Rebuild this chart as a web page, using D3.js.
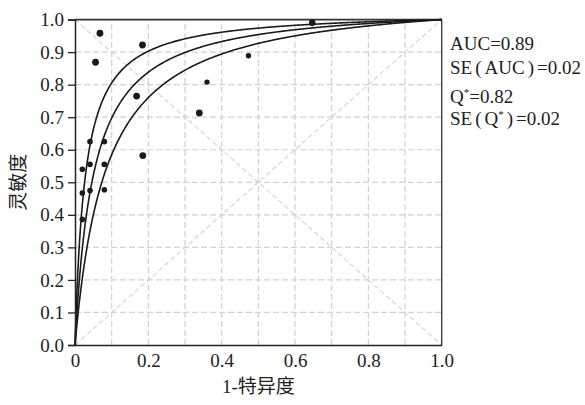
<!DOCTYPE html>
<html>
<head>
<meta charset="utf-8">
<script src="https://cdn.jsdelivr.net/npm/d3@7"></script>
<style>
  html, body { margin: 0; padding: 0; background: #fff; }
  svg { display: block; }
</style>
</head>
<body>
<svg id="chart" width="585" height="405"></svg>
<script>
// Study points: 1 - specificity, sensitivity, and marker radius
const studyFpr  = [0.068, 0.056, 0.184, 0.647, 0.473, 0.360, 0.168, 0.339, 0.185,
                   0.041, 0.080, 0.041, 0.080, 0.020, 0.020, 0.041, 0.080, 0.020];
const studySens = [0.958, 0.869, 0.922, 0.990, 0.889, 0.808, 0.765, 0.713, 0.582,
                   0.625, 0.625, 0.555, 0.555, 0.540, 0.467, 0.475, 0.477, 0.386];
const studySize = [3.4, 3.4, 3.4, 3.3, 2.7, 2.7, 3.4, 3.4, 3.4,
                   2.8, 2.8, 2.8, 2.8, 2.8, 2.8, 2.8, 2.8, 2.8];

// Summary statistics of the symmetric SROC curve
const statLabels = [["AUC", ""], ["SE(AUC)", ""], ["Q", "*"], ["SE(Q", "*", ")"]];
const statValues = [0.89, 0.02, 0.82, 0.02];
// Curves: SROC at Q*, and Q* -/+ 1.96 SE
const curveZ = [-1.96, 0, 1.96];

const xTicks = [0, 0.2, 0.4, 0.6, 0.8, 1.0];
const yTicks = [0, 0.1, 0.2, 0.3, 0.4, 0.5, 0.6, 0.7, 0.8, 0.9, 1.0];
const gridTicks = d3.range(1, 10).map(i => i / 10);

const serif = "'Liberation Serif', 'Times New Roman', serif";
const cjk = "'Liberation Serif', 'Noto Sans CJK SC', serif";

const svg = d3.select("#chart");
const m = { left: 75, top: 19.6, width: 366.7, height: 325.4 };

const x = d3.scaleLinear().domain([0, 1]).range([m.left, m.left + m.width]);
const y = d3.scaleLinear().domain([0, 1]).range([m.top + m.height, m.top]);

// Dashed grid
const grid = svg.append("g").attr("stroke", "#d2d2d2").attr("stroke-width", 1.2)
  .attr("stroke-dasharray", "6,3");
grid.selectAll("line.gx").data(gridTicks).join("line")
  .attr("x1", d => x(d)).attr("x2", d => x(d))
  .attr("y1", y(0)).attr("y2", y(1));
grid.selectAll("line.gy").data(gridTicks).join("line")
  .attr("y1", d => y(d)).attr("y2", d => y(d))
  .attr("x1", x(0)).attr("x2", x(1));

// Reference diagonals
const diag = svg.append("g").attr("stroke", "#d6d6d6").attr("stroke-width", 1.2)
  .attr("stroke-dasharray", "5,3");
diag.append("line").attr("x1", x(0)).attr("y1", y(0)).attr("x2", x(1)).attr("y2", y(1));
diag.append("line").attr("x1", x(0)).attr("y1", y(1)).attr("x2", x(1)).attr("y2", y(0));

// Frame (top / right)
svg.append("line").attr("x1", x(0)).attr("x2", x(1)).attr("y1", y(1)).attr("y2", y(1))
  .attr("stroke", "#333").attr("stroke-width", 1.6);
svg.append("line").attr("x1", x(1)).attr("x2", x(1)).attr("y1", y(1)).attr("y2", y(0))
  .attr("stroke", "#333").attr("stroke-width", 1.3);

// SROC curves
const q = statValues[2], seQ = statValues[3];
const fprGrid = d3.range(0, 1.0001, 0.0025);
const line = d3.line().x(d => x(d[0])).y(d => y(d[1]));
curveZ.forEach(z => {
  const qq = q + z * seQ;
  const dor = Math.pow(qq / (1 - qq), 2);
  const pts = fprGrid.map(f => [f, f * dor / (1 - f + f * dor)]);
  svg.append("path").attr("d", line(pts))
    .attr("fill", "none").attr("stroke", "#1a1a1a").attr("stroke-width", 1.6);
});

// Axes
const yAxis = d3.axisLeft(y).tickValues(yTicks).tickFormat(d3.format(".1f")).tickSize(7).tickPadding(4);
const gy = svg.append("g").attr("transform", `translate(${x(0)},0)`).call(yAxis);
gy.select(".domain").attr("stroke", "#222").attr("stroke-width", 1.5);
gy.selectAll(".tick line").attr("stroke", "#222").attr("stroke-width", 1.3);
gy.selectAll(".tick text").attr("font-family", serif).attr("font-size", 19).attr("fill", "#222");

const xAxis = d3.axisBottom(x).tickValues(xTicks)
  .tickFormat(d => d === 0 ? "0" : d3.format(".1f")(d)).tickSize(0).tickPadding(9);
const gx = svg.append("g").attr("transform", `translate(0,${y(0)})`).call(xAxis);
gx.select(".domain").attr("stroke", "#222").attr("stroke-width", 1.5);
gx.selectAll(".tick text").attr("font-family", serif).attr("font-size", 19).attr("fill", "#222");

// Study points
svg.append("g").selectAll("circle").data(studyFpr).join("circle")
  .attr("cx", d => x(d)).attr("cy", (d, i) => y(studySens[i]))
  .attr("r", (d, i) => studySize[i]).attr("fill", "#1a1a1a");

// Axis titles
svg.append("text").attr("x", x(0.5)).attr("y", 393).attr("text-anchor", "middle")
  .attr("font-family", cjk).attr("font-size", 19).attr("fill", "#222").text("1-特异度");
svg.append("text").attr("transform", `translate(25,${y(0.5)}) rotate(-90)`)
  .attr("text-anchor", "middle").attr("font-family", cjk).attr("font-size", 19)
  .attr("fill", "#222").text("灵敏度");

// Statistics block
const stats = svg.append("g").attr("font-family", serif).attr("font-size", 19).attr("fill", "#222");
const baselines = [50, 73.5, 102.5, 124.5];
statLabels.forEach((parts, i) => {
  const t = stats.append("text").attr("x", 450).attr("y", baselines[i]);
  const val = "=" + d3.format(".2f")(statValues[i]);
  // split "SE(" style prefixes so the parentheses get extra room
  const add = (s, dx) => { const sp = t.append("tspan").text(s); if (dx) sp.attr("dx", dx); return sp; };
  const main = parts[0];
  const pm = main.match(/^(SE)\((.*)$/);
  if (pm) {
    add(pm[1]);
    add("(", 3);
    const inner = pm[2].replace(")", "");
    add(inner, 3);
  } else {
    add(main);
  }
  if (parts[1]) {
    add(parts[1]).attr("font-size", 11).attr("baseline-shift", "60%");
  }
  if (main.endsWith(")") || parts[2] === ")") add(")", 3);
  add(val, main.endsWith(")") || parts[2] === ")" ? 3 : 0);
});
</script>
</body>
</html>
